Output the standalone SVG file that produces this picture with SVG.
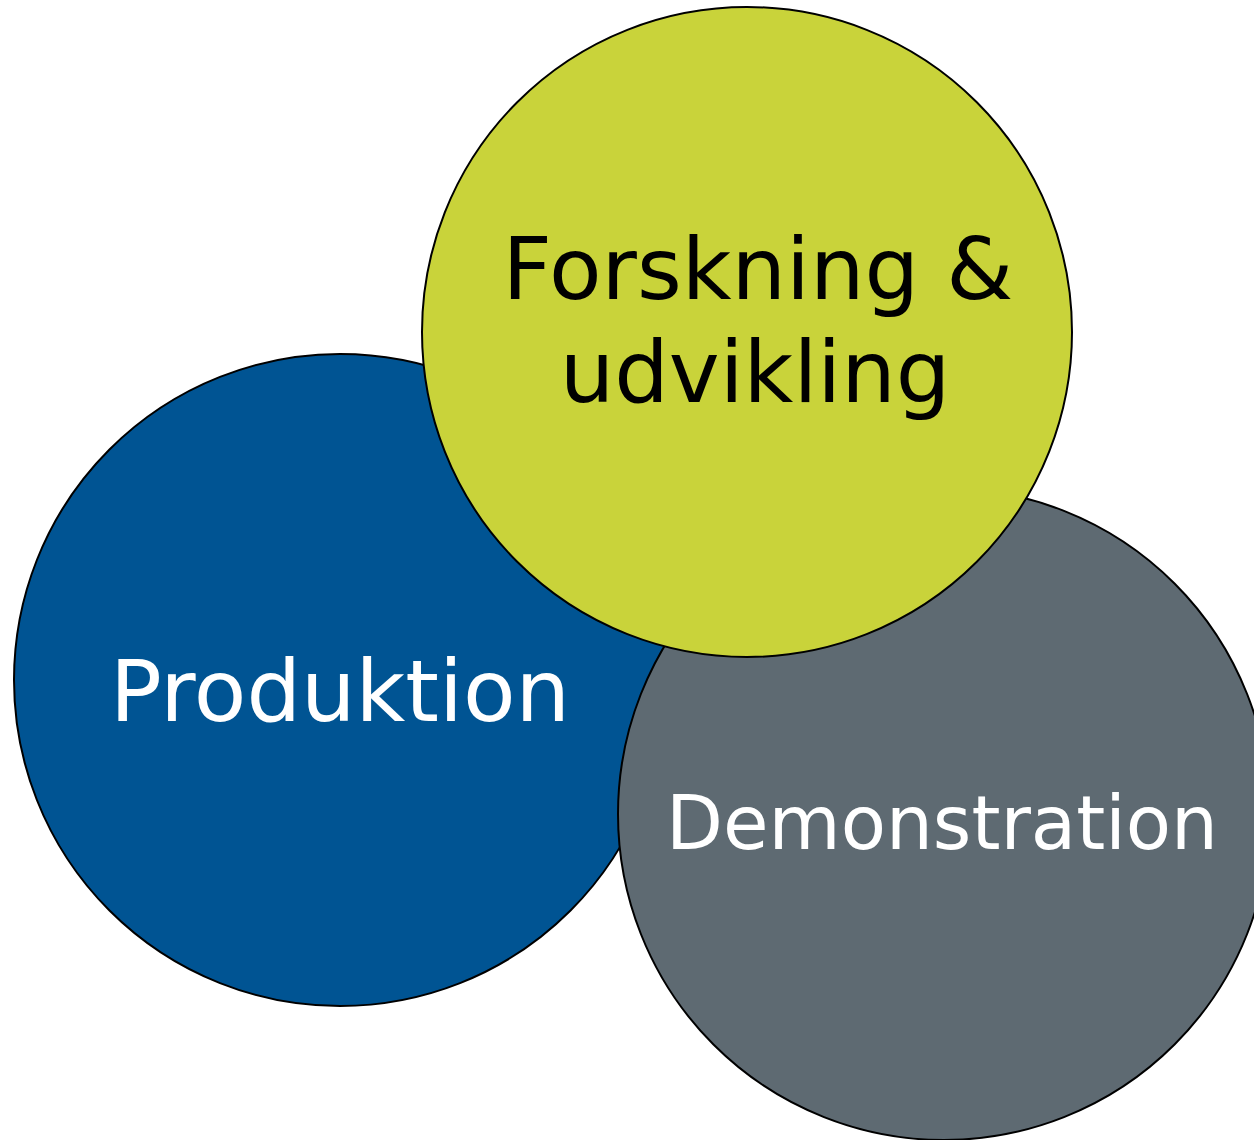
<svg xmlns="http://www.w3.org/2000/svg" width="1254" height="1140" viewBox="0 0 1254 1140">
<style>
.c{stroke:#000;stroke-width:2}
.t{font-family:"DejaVu Sans",Verdana,sans-serif;font-size:86px;text-anchor:middle}
.s{font-size:74px}
</style>
<rect width="1254" height="1140" fill="#fff"/>
<g id="produktion">
<circle class="c" cx="340" cy="680" r="326" fill="#005493"/>
<text class="t" x="340" y="721" fill="#fff">Produktion</text>
</g>
<g id="demonstration">
<circle class="c" cx="944" cy="814" r="326" fill="#5E6A72"/>
<text class="t s" x="942" y="849" fill="#fff">Demonstration</text>
</g>
<g id="forskning">
<circle class="c" cx="747" cy="332" r="325" fill="#C9D33A"/>
<text class="t" x="758" y="299" fill="#000">Forskning &amp;</text>
<text class="t" x="755" y="402" fill="#000">udvikling</text>
</g>
<g id="connectors"/>
</svg>
